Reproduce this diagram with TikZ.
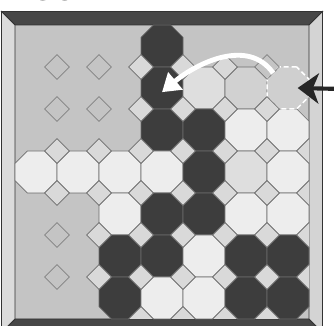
\documentclass[tikz,border=0pt]{standalone}
\usepackage{fontspec}
\usetikzlibrary{shapes.geometric,arrows.meta}
\newfontfamily\headfont{Liberation Sans}

\begin{document}
\begin{tikzpicture}[
    x=1cm,y=1cm,
    tile/.style={regular polygon, regular polygon sides=8, minimum size=1.0824cm, inner sep=0pt, outer sep=0pt, draw=black!58, line width=0.45pt},
    dark/.style={fill=black!76},
    light/.style={fill=black!7},
    pale/.style={fill=black!13},
    dim/.style={fill=black!18},
    ghost/.style={draw=white, dash pattern=on 3.4pt off 2pt, line width=1pt, fill=black!19},
    gem/.style={draw=black!58, fill=black!15, line width=0.45pt},
    hollow/.style={draw=black!50, line width=0.45pt},
    band/.style={draw=black!80, line width=0.5pt},
    swing/.style={-{Triangle[length=0.42cm,width=0.52cm]}, draw=white, line width=3.3pt},
    push/.style={-{Stealth[length=0.5cm,width=0.72cm,inset=0.14cm]}, draw=black!85, line width=2.8pt}
]
    \useasboundingbox (-0.357,-0.143) rectangle (7.595,7.595);
    \clip (-0.357,-0.143) rectangle (7.595,7.595);

    \node[font={\headfont\bfseries\fontsize{20}{24}\selectfont}, anchor=base west, inner sep=0pt] (title) at (-0.24,7.575) {FIGURE 4};

    \fill[black!23] (0,0) rectangle (7,7);
    \draw[band, fill=black!72] (-0.32,7.32) -- (7.32,7.32) -- (7,7) -- (0,7) -- cycle;
    \draw[band, fill=black!72] (-0.32,-0.32) -- (7.32,-0.32) -- (7,0) -- (0,0) -- cycle;
    \draw[band, fill=black!14] (-0.32,-0.32) -- (0,0) -- (0,7) -- (-0.32,7.32) -- cycle;
    \draw[band, fill=black!17] (7.32,-0.32) -- (7,0) -- (7,7) -- (7.32,7.32) -- cycle;

    \foreach \c/\r/\s in {3/0/dark, 3/1/dark, 4/1/pale, 5/1/dim, 3/2/dark, 4/2/dark, 5/2/light, 6/2/light,
        0/3/light, 1/3/light, 2/3/light, 3/3/light, 4/3/dark, 5/3/pale, 6/3/light,
        2/4/light, 3/4/dark, 4/4/dark, 5/4/light, 6/4/light,
        2/5/dark, 3/5/dark, 4/5/light, 5/5/dark, 6/5/dark,
        2/6/dark, 3/6/light, 4/6/light, 5/6/dark, 6/6/dark} {
        \node[tile, \s] (t\c\r) at (\c+0.5,6.5-\r) {};
    }
    \node[tile, ghost] (ghost) at (6.5,5.5) {};

    \foreach \y/\from in {4/1, 3/1, 2/2, 1/2, 5/3} {
        \foreach \x in {\from,...,6} {
            \draw[gem] (\x,\y) +(0.293,0) -- +(0,0.293) -- +(-0.293,0) -- +(0,-0.293) -- cycle;
        }
    }
    \foreach \x in {3,4,5} {
        \draw[gem] (\x,6) +(0.293,0) -- +(0,0.293) -- +(-0.293,0) -- +(0,-0.293) -- cycle;
    }
    \foreach \x/\y in {1/6, 2/6, 6/6, 1/5, 2/5, 1/2, 1/1} {
        \draw[hollow] (\x,\y) +(0.293,0) -- +(0,0.293) -- +(-0.293,0) -- +(0,-0.293) -- cycle;
    }
    \foreach \x in {3,...,6} {
        \draw[gem] (\x,0) +(-0.293,0) -- +(0,0.293) -- +(0.293,0);
    }
    \foreach \y in {1,...,4} {
        \draw[gem] (7,\y) +(0,-0.293) -- +(-0.293,0) -- +(0,0.293);
    }

    \coordinate (entry) at (7.6,5.48);
    \draw[push] (entry) -- ([xshift=-0.27cm]ghost.east);
    \draw[swing] (ghost.north west) to[out=125,in=40] ([yshift=-0.1cm]t31.center);
\end{tikzpicture}
\end{document}
